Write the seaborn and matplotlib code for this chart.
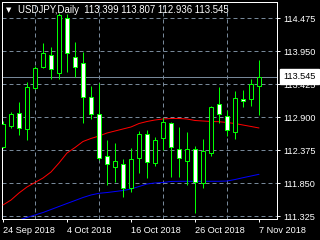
import numpy as np
import pandas as pd
import matplotlib
matplotlib.use("Agg")
import matplotlib.pyplot as plt
import seaborn as sns

# ---- data ----
dates = ["24 Sep 2018", "25 Sep 2018", "26 Sep 2018", "27 Sep 2018", "28 Sep 2018",
         "1 Oct 2018", "2 Oct 2018", "3 Oct 2018", "4 Oct 2018", "5 Oct 2018",
         "8 Oct 2018", "9 Oct 2018", "10 Oct 2018", "11 Oct 2018", "12 Oct 2018",
         "15 Oct 2018", "16 Oct 2018", "17 Oct 2018", "18 Oct 2018", "19 Oct 2018",
         "22 Oct 2018", "23 Oct 2018", "24 Oct 2018", "25 Oct 2018", "26 Oct 2018",
         "29 Oct 2018", "30 Oct 2018", "31 Oct 2018", "1 Nov 2018", "2 Nov 2018",
         "5 Nov 2018", "6 Nov 2018", "7 Nov 2018"]
opens = [112.427, 112.761, 112.968, 112.714, 113.366, 113.700, 113.891, 113.605, 114.480, 113.859,
         113.764, 113.223, 112.952, 112.284, 112.109, 112.157, 111.775, 112.252, 112.634, 112.173,
         112.571, 112.809, 112.396, 112.205, 112.396, 111.855, 112.332, 113.111, 112.921, 112.666,
         113.191, 113.191, 113.399]
highs = [112.841, 112.984, 113.143, 113.461, 113.716, 114.082, 114.018, 114.559, 114.543, 114.098,
         113.939, 113.398, 113.445, 112.539, 112.491, 112.236, 112.412, 112.682, 112.698, 112.587,
         112.889, 112.825, 112.746, 112.666, 112.443, 112.555, 113.080, 113.382, 113.016, 113.318,
         113.334, 113.509, 113.807]
lows = [112.412, 112.730, 112.618, 112.539, 113.350, 113.690, 113.509, 113.509, 113.620, 113.541,
        112.809, 112.873, 112.221, 111.823, 111.871, 111.632, 111.711, 112.014, 111.934, 112.125,
        112.380, 111.950, 111.950, 111.823, 111.377, 111.775, 112.284, 112.809, 112.602, 112.555,
        113.064, 113.080, 112.936]
closes = [112.793, 112.952, 112.730, 113.382, 113.684, 113.923, 113.668, 114.527, 113.923, 113.700,
          113.223, 112.952, 112.252, 112.157, 112.205, 111.775, 112.236, 112.634, 112.189, 112.539,
          112.825, 112.427, 112.252, 112.396, 111.871, 112.364, 113.064, 112.952, 112.698, 113.207,
          113.159, 113.430, 113.545]
ma_red = [111.505, 111.584, 111.696, 111.791, 111.863, 111.934, 112.030, 112.173, 112.332, 112.419,
          112.515, 112.563, 112.602, 112.650, 112.682, 112.714, 112.746, 112.801, 112.833, 112.857,
          112.873, 112.881, 112.881, 112.873, 112.849, 112.841, 112.833, 112.830, 112.817, 112.801,
          112.777, 112.754, 112.730]
ma_blue = [111.202, 111.234, 111.266, 111.306, 111.346, 111.385, 111.433, 111.481, 111.529, 111.576,
           111.624, 111.664, 111.691, 111.703, 111.719, 111.735, 111.759, 111.799, 111.839, 111.855,
           111.863, 111.879, 111.882, 111.882, 111.882, 111.882, 111.882, 111.882, 111.886, 111.910,
           111.939, 111.966, 111.993]
price_ticks = [111.325, 111.850, 112.375, 112.900, 113.425, 113.950, 114.475]
last_price = 113.545
symbol = "USDJPY,Daily"

# ---- style ----
sns.set_theme(style="dark", rc={"axes.facecolor": "black", "figure.facecolor": "black"})
plt.rcParams["font.family"] = ["Liberation Sans", "DejaVu Sans"]

GRID = "#778899"
GREEN = "#00FF00"
PX = 0.72  # one pixel in points at 100 dpi
FS = 6.6

fig = plt.figure(figsize=(3.2, 2.4), dpi=100, facecolor="black")
ax = fig.add_axes([2 / 320, 21 / 240, 275 / 320, 217 / 240])
ax.set_facecolor("black")

df = pd.DataFrame({"i": np.arange(len(dates)), "open": opens, "high": highs,
                   "low": lows, "close": closes, "red": ma_red, "blue": ma_blue})

# grid
ax.set_yticks(price_ticks)
ax.set_xticks(np.arange(0, len(dates), 8))
ax.set_xticks(np.arange(4, len(dates), 4), minor=True)
ax.grid(False)
ax.grid(True, which="major", axis="y", color=GRID, lw=PX, ls=(0, (4, 3)))
ax.grid(True, which="minor", axis="x", color=GRID, lw=PX, ls=(0, (4, 3)))

# moving averages
sns.lineplot(data=df, x="i", y="red", color="#FF0000", lw=PX, ax=ax, zorder=3)
sns.lineplot(data=df, x="i", y="blue", color="#0000FF", lw=PX, ax=ax, zorder=3)

# current price line
ax.axhline(last_price, color=GRID, lw=PX, zorder=2)

# candles
ax.vlines(df["i"], df["low"], df["high"], color=GREEN, lw=PX, zorder=4)
bull = df["close"] >= df["open"]
body_bottom = np.minimum(df["open"], df["close"])
body_h = np.abs(df["close"] - df["open"]).clip(lower=0.012)
ax.bar(df["i"][bull], body_h[bull], bottom=body_bottom[bull], width=0.5,
       color="black", edgecolor=GREEN, lw=PX, zorder=5)
ax.bar(df["i"][~bull], body_h[~bull], bottom=body_bottom[~bull], width=0.5,
       color="white", edgecolor=GREEN, lw=PX, zorder=5)

ax.set_xlim(-0.125, 34.25)
ax.set_ylim(111.282, 114.734)
ax.set_xlabel("")
ax.set_ylabel("")

# axes/ticks
for s in ax.spines.values():
    s.set_visible(True)
    s.set_color("white")
    s.set_linewidth(PX)
ax.yaxis.tick_right()
ax.tick_params(axis="y", which="major", length=2.2, width=PX, color="white",
               labelcolor="white", labelsize=FS, pad=2.2, right=True, left=False)
ax.tick_params(axis="x", which="major", length=2.2, width=PX, color="white",
               labelcolor="white", labelsize=FS, pad=2.5, bottom=True)
ax.tick_params(axis="x", which="minor", length=0)
ax.set_yticklabels([f"{v:.3f}" for v in price_ticks])
ax.set_xticklabels([dates[k] for k in range(0, len(dates), 8)], ha="left")
for lbl in ax.get_xticklabels():
    lbl.set_horizontalalignment("left")
    lbl.set_x(lbl.get_position()[0])

# price label box
ax.annotate(f"{last_price:.3f}", xy=(1.0, last_price), xycoords=ax.get_yaxis_transform(),
            xytext=(4.4, 0), textcoords="offset points",
            ha="left", va="center", fontsize=FS, color="black", zorder=10,
            annotation_clip=False,
            bbox=dict(boxstyle="square,pad=0.35", fc="white", ec="white"))

# header text
fig.text(6 / 320, 1 - 10.5 / 240, "\u25BC", color="white", fontsize=5,
         family="DejaVu Sans", ha="left", va="center")
fig.text(18 / 320, 1 - 10 / 240,
         f"{symbol}  {opens[-1]:.3f} {highs[-1]:.3f} {lows[-1]:.3f} {closes[-1]:.3f}",
         color="white", fontsize=FS + 0.3, ha="left", va="center")

fig.savefig("out.png", dpi=100, facecolor="black")
